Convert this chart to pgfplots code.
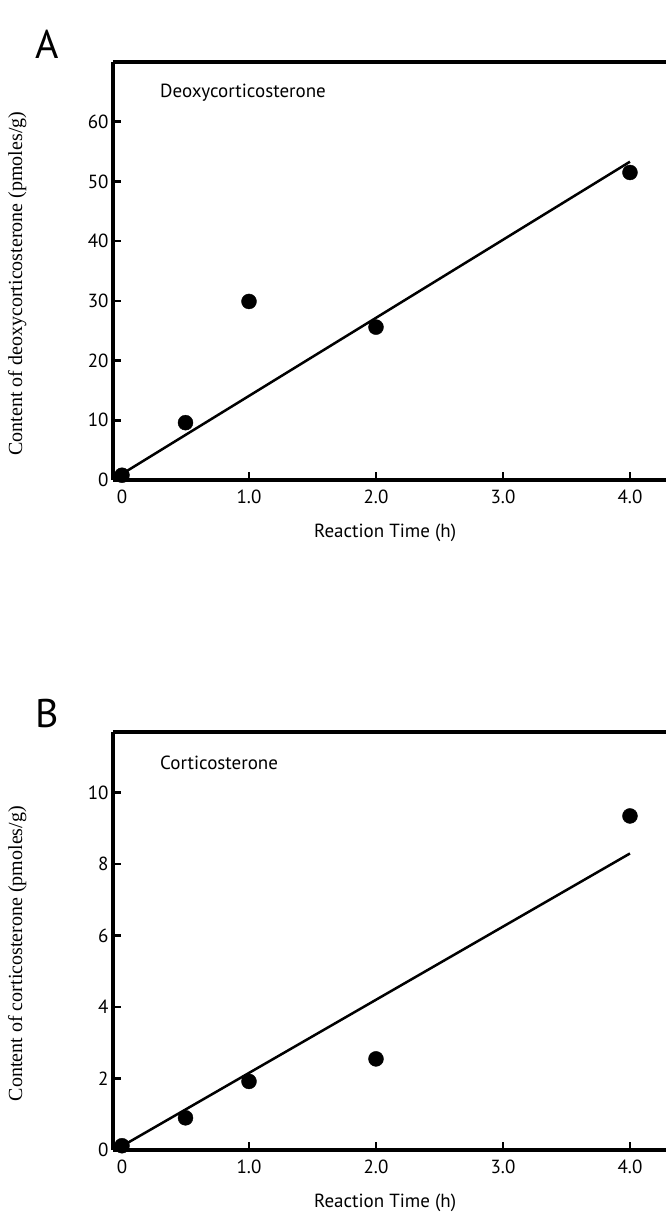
\documentclass[border=0pt]{standalone}
\usepackage{fontspec}
\setmainfont{PT Sans}
\newfontfamily\timesfont{Liberation Serif}
\usepackage{pgfplots}
\pgfplotsset{compat=1.18}
\begin{document}
\begin{tikzpicture}[x=1pt,y=1pt]
\useasboundingbox (0pt,0pt) rectangle (665pt,1219pt);
\pgfplotsset{
  panel/.style={
    scale only axis, width=567pt, height=418pt,
    xmin=-0.0709, xmax=4.394,
    separate axis lines,
    axis x line*=box, axis y line*=left,
    xtick={0,1,2,3,4}, xticklabels={0,1.0,2.0,3.0,4.0},
    tick pos=left, tick align=inside,
    major tick length=8pt,
    tick style={line width=2.5pt, black},
    axis line style={line width=4.5pt, -},
    every tick label/.append style={font=\fontsize{19}{22}\selectfont},
    /pgf/number format/assume math mode=true,
    xticklabel style={yshift=-6pt},
    yticklabel style={xshift=-1pt},
    xlabel={Reaction Time (h)},
    xlabel style={font=\fontsize{19}{22}\selectfont, at={(axis description cs:0.48,-0.127)}, anchor=center},
    ylabel style={font=\timesfont\fontsize{20}{24}\selectfont, at={(axis description cs:-0.169,0.47)}, anchor=center},
    clip=false,
  },
  pts/.style={only marks, mark=*, mark size=7.5pt, black},
  fit/.style={no marks, black, line width=2.5pt},
}
% Panel A
\begin{axis}[panel, at={(113pt,739pt)}, anchor=south west,
  ymin=0, ymax=70, ytick={0,10,20,30,40,50,60},
  ylabel={Content of deoxycorticosterone (pmoles/g)}]
\addplot[fit] coordinates {(0.03,1.4) (4,53.3)};
\addplot[pts] coordinates {(0,0.8) (0.5,9.6) (1.0,29.9) (2.0,25.6) (4.0,51.5)};
\node[anchor=west, font=\fontsize{19}{22}\selectfont] at (axis description cs:0.077,0.926) {Deoxycorticosterone};
\end{axis}
% Panel B
\begin{axis}[panel, at={(113pt,69pt)}, anchor=south west,
  ymin=0, ymax=11.7, ytick={0,2,4,6,8,10},
  ylabel={Content of corticosterone (pmoles/g)}]
\addplot[fit] coordinates {(0.02,0.15) (4,8.3)};
\addplot[pts] coordinates {(0,0.12) (0.5,0.9) (1.0,1.92) (2.0,2.55) (4.0,9.35)};
\node[anchor=west, font=\fontsize{19}{22}\selectfont] at (axis description cs:0.077,0.926) {Corticosterone};
\end{axis}
\node[font=\fontsize{40}{46}\selectfont] at (47pt,1175pt) {A};
\node[font=\fontsize{40}{46}\selectfont] at (47pt,505pt) {B};
\end{tikzpicture}
\end{document}
